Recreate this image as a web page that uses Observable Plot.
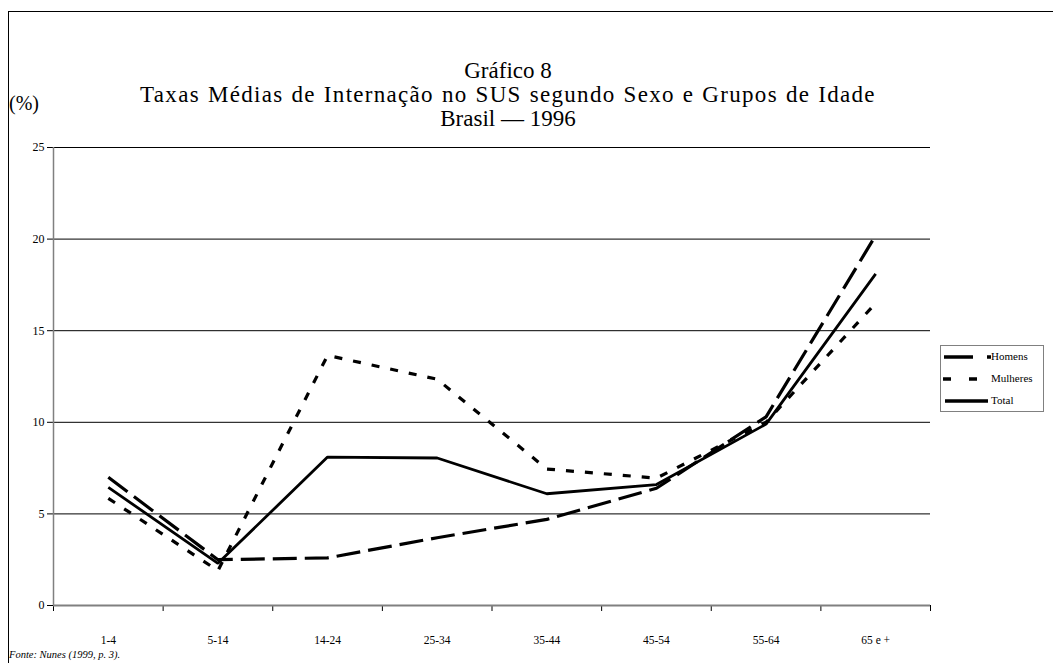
<!DOCTYPE html>
<html>
<head>
<meta charset="utf-8">
<script src="https://cdn.jsdelivr.net/npm/d3@7"></script>
<script src="https://cdn.jsdelivr.net/npm/@observablehq/plot@0.6"></script>
<style>
  html, body { margin: 0; padding: 0; background: #fff; overflow: hidden; }
  body { width: 1053px; height: 663px; position: relative; font-family: "Liberation Serif", "Times New Roman", serif; }
  #frame { position: absolute; left: 8px; top: 11px; width: 1200px; height: 800px; border: 1.5px solid #000; box-sizing: border-box; }
  #chart { position: absolute; left: 0; top: 0; }
  .title { position: absolute; left: 8px; width: 1000px; text-align: center; font-size: 23px; line-height: 24px; color: #000; white-space: nowrap; }
  #pct { position: absolute; left: 9px; top: 92px; font-size: 20px; }
  #caption { position: absolute; left: 9px; top: 649px; font-size: 10.5px; font-style: italic; }
  #legend { position: absolute; left: 940px; top: 345px; width: 104px; height: 67px; border: 1px solid #808080; box-sizing: border-box; background: #fff; }
  .lg { position: absolute; left: 0; font-size: 11px; }
</style>
</head>
<body>
<div id="frame"></div>
<div id="chart"></div>
<div class="title" style="top:59px">Gráfico 8</div>
<div class="title" style="top:83px; letter-spacing:1.3px; word-spacing:1px">Taxas Médias de Internação no SUS segundo Sexo e Grupos de Idade</div>
<div class="title" style="top:107px">Brasil — 1996</div>
<div id="pct">(%)</div>
<div id="legend"></div>
<div id="caption">Fonte: Nunes (1999, p. 3).</div>
<script>
const ageGroups = ["1-4", "5-14", "14-24", "25-34", "35-44", "45-54", "55-64", "65 e +"];
const homens   = [7.0, 2.5, 2.6, 3.7, 4.7, 6.4, 10.3, 20.2];
const mulheres = [5.85, 1.9, 13.65, 12.35, 7.45, 6.95, 10.0, 16.5];
const total    = [6.45, 2.3, 8.1, 8.05, 6.1, 6.6, 9.9, 18.1];
const seriesNames = ["Homens", "Mulheres", "Total"];
const yTicks = [0, 5, 10, 15, 20, 25];

const styles = {
  Homens:   {strokeWidth: 3.2, dash: "24,8"},
  Mulheres: {strokeWidth: 3.2, dash: "8,11"},
  Total:    {strokeWidth: 2.8, dash: null}
};
const seriesValues = {Homens: homens, Mulheres: mulheres, Total: total};

const rows = [];
for (const s of seriesNames) {
  seriesValues[s].forEach((v, i) => rows.push({series: s, i, v}));
}
const idx = ageGroups.map((_, i) => i);
const edges = d3.range(-0.5, ageGroups.length, 1);

const font = "Liberation Serif, Times New Roman, serif";

const lineMarks = seriesNames.map(s => Plot.line(rows.filter(d => d.series === s), {
  x: "i", y: "v", stroke: "#000", strokeWidth: styles[s].strokeWidth,
  strokeDasharray: styles[s].dash, strokeLinejoin: "miter", strokeLinecap: "butt"
}));

const chart = Plot.plot({
  width: 1053,
  height: 663,
  marginLeft: 53,
  marginRight: 123,
  marginTop: 147,
  marginBottom: 58,
  style: {fontFamily: font, background: "transparent", color: "#000"},
  x: {domain: [-0.5, ageGroups.length - 0.5]},
  y: {domain: [0, 25]},
  marks: [
    Plot.ruleY(yTicks.filter(d => d > 0), {x1: -0.5, x2: ageGroups.length - 0.5, stroke: "#000", strokeWidth: 1}),
    Plot.axisY({ticks: yTicks, tickSize: 6, tickPadding: 3, fontSize: 12, label: null, stroke: "#000"}),
    Plot.axisX({ticks: edges, tickSize: 6, tickFormat: () => "", label: null, stroke: "#000"}),
    Plot.axisX({ticks: idx, tickSize: 0, tickPadding: 30, fontSize: 11.5, tickFormat: i => ageGroups[i], label: null}),
    Plot.ruleX([-0.5], {stroke: "#808080", strokeWidth: 1.5}),
    Plot.ruleY([0], {x1: -0.5, x2: ageGroups.length - 0.5, stroke: "#808080", strokeWidth: 2}),
    ...lineMarks
  ]
});
document.getElementById("chart").appendChild(chart);

// legend
const legend = document.getElementById("legend");
const legendSamples = {
  Homens: {x1: 3, x2: 50, dash: "29,14", w: 3.5},
  Mulheres: {x1: 2, x2: 36, dash: "8,18", w: 3.5},
  Total: {x1: 4, x2: 47, dash: null, w: 3.5}
};
seriesNames.forEach((s, k) => {
  const y = 11 + k * 22;
  const sv = d3.create("svg").attr("width", 50).attr("height", 8)
    .style("position", "absolute").style("left", "0px").style("top", (y - 4) + "px");
  const ls = legendSamples[s];
  sv.append("line").attr("x1", ls.x1).attr("x2", ls.x2).attr("y1", 4).attr("y2", 4)
    .attr("stroke", "#000").attr("stroke-width", ls.w)
    .attr("stroke-dasharray", ls.dash);
  legend.appendChild(sv.node());
  const t = document.createElement("div");
  t.className = "lg";
  t.style.left = "50px";
  t.style.top = (y - 7) + "px";
  t.textContent = s;
  legend.appendChild(t);
});
</script>
</body>
</html>
